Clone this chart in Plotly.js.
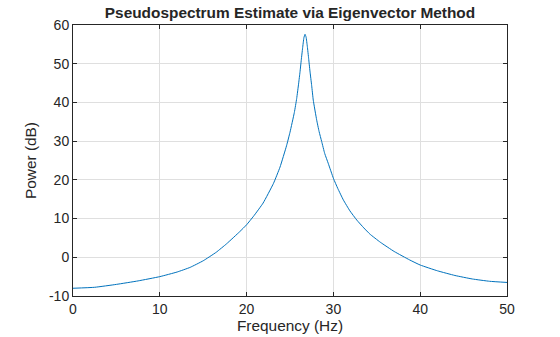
<!DOCTYPE html>
<html>
<head>
<meta charset="utf-8">
<script src="https://cdn.plot.ly/plotly-3.0.1.min.js"></script>
<style>
html,body{margin:0;padding:0;background:#fff;}
#chart{width:560px;height:337px;}
</style>
</head>
<body>
<div id="chart"></div>
<script>
const freqHz = [0, 2.5, 5, 7.5, 10, 12, 13.5, 15, 16.5, 17.7, 19.2, 20, 20.8, 21.9, 23.1, 23.85, 24.6, 25.0, 25.5, 25.77, 26.0, 26.15, 26.3, 26.45, 26.6, 26.73, 26.85, 27.0, 27.15, 27.3, 27.5, 27.68, 28.07, 28.35, 28.65, 29.0, 29.4, 30.0, 30.5, 31.15, 31.9, 32.7, 33.5, 34.2, 35.4, 37, 38.8, 40, 42, 44, 46, 48, 50];
const powerDb = [-8.0, -7.75, -7.0, -6.1, -5.0, -3.8, -2.6, -0.9, 1.3, 3.5, 6.6, 8.4, 10.6, 14.0, 19.1, 23.3, 28.8, 32.3, 37.4, 41.0, 45.0, 47.8, 51.0, 54.0, 56.7, 57.6, 56.9, 54.4, 51.3, 48.1, 44.3, 40.6, 35.5, 32.5, 29.9, 26.8, 24.3, 20.4, 17.8, 14.8, 12.0, 9.6, 7.6, 6.0, 3.9, 1.5, -0.7, -2.0, -3.5, -4.7, -5.6, -6.2, -6.5];
const xTicks = [0, 10, 20, 30, 40, 50];
const yTicks = [-10, 0, 10, 20, 30, 40, 50, 60];

const FONT = 'Liberation Sans, Arial, sans-serif';
const axisCommon = {
  showline: true, linecolor: '#262626', linewidth: 1, mirror: 'ticks',
  ticks: 'inside', ticklen: 4, tickcolor: '#262626', tickwidth: 1,
  showgrid: true, gridcolor: '#dfdfdf', gridwidth: 1,
  zeroline: false, tickfont: {family: FONT, size: 14, color: '#262626'}
};

Plotly.newPlot('chart', [{
  x: freqHz, y: powerDb, type: 'scatter', mode: 'lines',
  line: {color: '#0072BD', width: 1, shape: 'spline', smoothing: 0.4},
  hoverinfo: 'skip'
}], {
  width: 560, height: 337,
  margin: {l: 73, r: 53, t: 25, b: 41},
  paper_bgcolor: '#fff', plot_bgcolor: '#fff',
  showlegend: false,
  title: {text: '<b>Pseudospectrum Estimate via Eigenvector Method</b>', font: {family: FONT, size: 15.4, color: '#262626'}, x: 0.5, xref: 'paper', xanchor: 'center', y: 1 - 13/337, yref: 'container', yanchor: 'middle'},
  xaxis: Object.assign({}, axisCommon, {range: [0, 50], tickvals: xTicks, ticktext: xTicks.map(String),
    title: {text: 'Frequency (Hz)', font: {family: FONT, size: 15.4, color: '#262626'}, standoff: 4}}),
  yaxis: Object.assign({}, axisCommon, {range: [-10, 60], tickvals: yTicks, ticktext: yTicks.map(String),
    title: {text: 'Power (dB)', font: {family: FONT, size: 15.4, color: '#262626'}, standoff: 8}})
}, {staticPlot: true, displayModeBar: false});
</script>
</body>
</html>
